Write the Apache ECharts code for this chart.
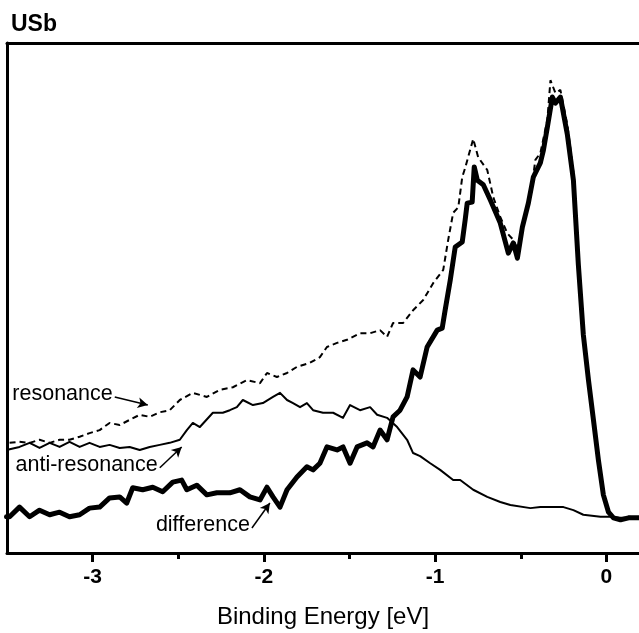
<!DOCTYPE html>
<html>
<head>
<meta charset="utf-8">
<title>USb</title>
<script src="https://cdn.jsdelivr.net/npm/echarts@6/dist/echarts.min.js"></script>
<style>
  html, body { margin: 0; padding: 0; background: #fff; }
  #chart { width: 639px; height: 633px; }
</style>
</head>
<body>
<div id="chart"></div>
<script>
// Photoemission spectra of USb: resonance, anti-resonance and their difference.
// Binding energy in eV, intensity in arbitrary units (0–100).

const majorTicks = [-3, -2, -1, 0];
const minorTicks = [-2.5, -1.5, -0.5];

const resEnergy = [-3.485, -3.427, -3.368, -3.310, -3.251, -3.193, -3.135, -3.076, -3.018, -2.959,
  -2.901, -2.842, -2.784, -2.725, -2.667, -2.608, -2.550, -2.491, -2.415, -2.333,
  -2.257, -2.181, -2.099, -2.023, -1.982, -1.924, -1.865, -1.807, -1.731, -1.673,
  -1.632, -1.573, -1.515, -1.439, -1.380, -1.322, -1.281, -1.246, -1.187, -1.129,
  -1.070, -1.012, -0.953, -0.924, -0.895, -0.865, -0.842, -0.825, -0.778, -0.749,
  -0.696, -0.661, -0.620, -0.579, -0.544, -0.515, -0.485, -0.444, -0.415, -0.386,
  -0.345, -0.327, -0.298, -0.269, -0.228, -0.193, -0.164, -0.135, -0.105, -0.076,
  -0.047, -0.018, 0.012, 0.041, 0.082, 0.129, 0.193];
const resIntensity = [21.6, 21.8, 21.6, 22.2, 21.6, 22.2, 22.2, 22.8, 23.5, 24.1,
  25.5, 25.1, 26.1, 27.1, 26.7, 27.6, 28.0, 30.0, 31.4, 30.6,
  32.0, 32.5, 33.9, 33.3, 35.3, 34.5, 35.3, 36.5, 37.3, 38.4,
  40.4, 41.2, 41.8, 43.1, 43.1, 43.7, 42.4, 45.1, 45.1, 47.6,
  49.6, 52.9, 55.5, 61.4, 66.7, 67.8, 73.7, 75.5, 81.2, 77.6,
  75.1, 69.8, 65.9, 62.7, 61.4, 59.4, 65.3, 69.8, 77.1, 78.4,
  84.9, 92.7, 90.2, 90.8, 83.9, 74.7, 57.1, 43.1, 34.3, 26.5,
  18.6, 11.8, 8.4, 7.1, 6.7, 7.1, 6.9];

const antiEnergy = [-3.503, -3.427, -3.368, -3.310, -3.251, -3.193, -3.135, -3.076, -3.018, -2.959,
  -2.901, -2.842, -2.784, -2.725, -2.667, -2.608, -2.550, -2.491, -2.450, -2.415,
  -2.374, -2.298, -2.240, -2.199, -2.158, -2.123, -2.064, -2.006, -1.947, -1.906,
  -1.865, -1.830, -1.789, -1.749, -1.713, -1.655, -1.596, -1.538, -1.497, -1.439,
  -1.380, -1.339, -1.281, -1.222, -1.164, -1.129, -1.088, -1.029, -0.971, -0.895,
  -0.854, -0.778, -0.696, -0.620, -0.561, -0.444, -0.386, -0.251, -0.193, -0.135,
  -0.035, 0.023, 0.082, 0.193];
const antiIntensity = [20.2, 20.8, 21.6, 20.6, 21.6, 20.8, 21.8, 20.8, 21.6, 20.8,
  21.2, 20.6, 20.8, 20.2, 20.8, 21.2, 21.6, 22.2, 24.1, 25.5,
  24.7, 27.5, 27.5, 28.0, 28.6, 30.0, 29.0, 29.4, 30.6, 31.4,
  30.0, 29.4, 28.6, 29.4, 28.0, 27.5, 27.5, 26.5, 29.0, 28.0,
  28.6, 27.1, 26.5, 24.7, 22.2, 19.6, 19.0, 17.6, 16.3, 14.3,
  14.3, 12.4, 11.0, 10.0, 9.4, 8.8, 9.0, 9.0, 8.4, 7.5,
  7.1, 7.1, 6.9, 6.9];

const diffEnergy = [-3.503, -3.485, -3.427, -3.368, -3.310, -3.251, -3.193, -3.135, -3.076, -3.018,
  -2.959, -2.901, -2.842, -2.801, -2.766, -2.708, -2.649, -2.591, -2.532, -2.480,
  -2.450, -2.392, -2.333, -2.275, -2.199, -2.140, -2.082, -2.023, -1.982, -1.947,
  -1.906, -1.865, -1.807, -1.749, -1.713, -1.673, -1.632, -1.573, -1.538, -1.497,
  -1.456, -1.398, -1.363, -1.322, -1.281, -1.246, -1.205, -1.164, -1.129, -1.088,
  -1.047, -0.988, -0.959, -0.942, -0.912, -0.883, -0.842, -0.825, -0.813, -0.784,
  -0.772, -0.754, -0.719, -0.678, -0.620, -0.573, -0.544, -0.520, -0.491, -0.456,
  -0.427, -0.386, -0.368, -0.345, -0.316, -0.298, -0.269, -0.228, -0.193, -0.164,
  -0.135, -0.105, -0.076, -0.047, -0.018, 0.012, 0.041, 0.082, 0.129, 0.193];
const diffIntensity = [7.1, 7.1, 9.0, 7.1, 8.4, 7.5, 8.0, 7.1, 7.5, 8.8,
  9.0, 10.8, 11.0, 9.8, 12.8, 12.4, 12.9, 12.0, 13.9, 14.3,
  12.4, 13.3, 11.4, 11.8, 11.8, 12.4, 11.0, 10.4, 12.9, 11.0,
  9.0, 12.4, 14.9, 16.9, 16.3, 17.6, 20.8, 20.2, 20.8, 17.6,
  20.8, 21.6, 20.8, 24.1, 22.2, 26.7, 28.0, 30.6, 35.9, 34.5,
  40.4, 43.7, 44.1, 47.6, 53.5, 60.0, 61.0, 65.3, 68.6, 68.8,
  75.7, 73.1, 72.2, 69.2, 64.7, 58.8, 60.8, 57.8, 63.9, 68.6,
  73.7, 76.5, 79.0, 83.5, 89.4, 88.2, 89.4, 82.0, 73.1, 56.5,
  42.8, 33.9, 26.1, 18.2, 11.4, 8.0, 6.9, 6.5, 6.9, 6.9];

// Annotation arrows: [label, tail [eV, int], head [eV, int]]
const annotations = [
  ['resonance', [-2.871, 30.6], [-2.678, 29.0]],
  ['anti-resonance', [-2.608, 16.7], [-2.480, 20.8]],
  ['difference', [-2.070, 4.9], [-1.965, 9.8]]
];

const zip = (xs, ys) => xs.map((x, i) => [x, ys[i]]);

const FONT = '"Liberation Sans", Arial, Helvetica, sans-serif';
const chart = echarts.init(document.getElementById('chart'), null, { renderer: 'canvas' });

const option = {
  animation: false,
  backgroundColor: '#fff',
  title: {
    text: 'USb',
    left: 6, top: 8,
    textStyle: { fontFamily: FONT, fontSize: 23, fontWeight: 'bold', color: '#000' }
  },
  grid: { left: 7, right: 0, top: 43, bottom: 80, containLabel: false, outerBoundsMode: 'none' },
  xAxis: [
    {
      type: 'value', position: 'bottom', min: -3.5, max: 0.19,
      axisLine: { show: true, onZero: false, lineStyle: { color: '#000', width: 3 } },
      axisTick: { show: true, length: 9, customValues: majorTicks, lineStyle: { color: '#000', width: 3 } },
      axisLabel: {
        show: true, customValues: majorTicks, margin: 14,
        fontFamily: FONT, fontSize: 21, fontWeight: 'bold', color: '#000',
        formatter: v => String(Math.round(v))
      },
      splitLine: { show: false },
      name: 'Binding Energy [eV]', nameLocation: 'middle', nameGap: 52,
      nameTextStyle: { fontFamily: FONT, fontSize: 24, color: '#000' }
    },
    {
      type: 'value', position: 'bottom', min: -3.5, max: 0.19,
      axisLine: { show: false, onZero: false },
      axisTick: { show: true, length: 6, customValues: minorTicks, lineStyle: { color: '#000', width: 3 } },
      axisLabel: { show: false },
      splitLine: { show: false }
    },
    {
      type: 'value', position: 'top', min: -3.5, max: 0.19,
      axisLine: { show: true, onZero: false, lineStyle: { color: '#000', width: 3 } },
      axisTick: { show: false }, axisLabel: { show: false }, splitLine: { show: false }
    }
  ],
  yAxis: {
    type: 'value', min: 0, max: 100, position: 'left',
    axisLine: { show: true, onZero: false, lineStyle: { color: '#000', width: 3 } },
    axisTick: { show: false }, axisLabel: { show: false }, splitLine: { show: false }
  },
  series: [
    {
      name: 'anti-resonance', type: 'line', showSymbol: false, symbol: 'none',
      data: zip(antiEnergy, antiIntensity),
      lineStyle: { color: '#000', width: 2, join: 'round' }
    },
    {
      name: 'resonance', type: 'line', showSymbol: false, symbol: 'none',
      data: zip(resEnergy, resIntensity),
      lineStyle: { color: '#000', width: 2, type: [6, 4] }
    },
    {
      name: 'difference', type: 'line', showSymbol: false, symbol: 'none',
      data: zip(diffEnergy, diffIntensity),
      lineStyle: { color: '#000', width: 5, join: 'round', cap: 'round' },
      markLine: {
        silent: true, symbol: ['none', 'arrow'], symbolSize: [8, 10],
        lineStyle: { color: '#000', width: 1.5, type: 'solid' },
        label: { show: false },
        data: annotations.map(a => [{ coord: a[1] }, { coord: a[2] }])
      }
    }
  ]
};
chart.setOption(option);

// Place each annotation label just left of its arrow's tail
const labels = annotations.map(a => {
  const p = chart.convertToPixel({ xAxisIndex: 0, yAxisIndex: 0 }, a[1]);
  return {
    type: 'text', x: p[0] - 2, y: p[1] - 3,
    style: {
      text: a[0], fill: '#000', font: '21.5px ' + FONT,
      align: 'right', verticalAlign: 'middle'
    }
  };
});
chart.setOption({ graphic: labels });
</script>
</body>
</html>
